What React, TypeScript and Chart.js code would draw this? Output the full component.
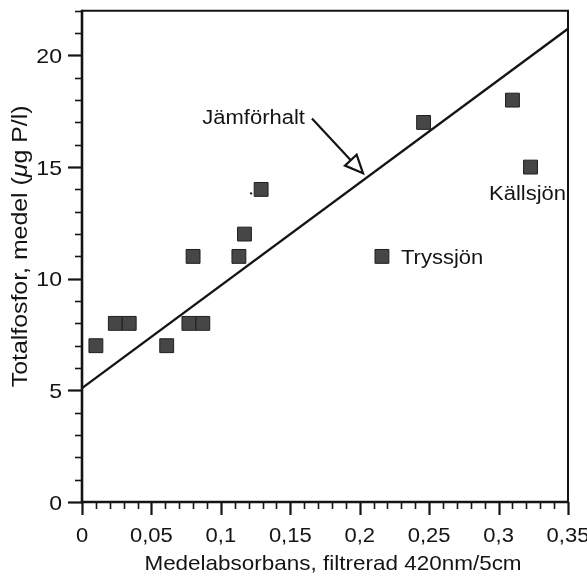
import React, { useEffect, useRef } from "react";
import { Chart, registerables } from "chart.js";

Chart.register(...registerables);

// Lake samples: mean absorbance (filtered, 420 nm / 5 cm) vs mean total phosphorus (µg P/l)
const absorbance = [0.01, 0.024, 0.034, 0.061, 0.077, 0.087, 0.08, 0.113, 0.117, 0.129, 0.246, 0.31, 0.323, 0.216];
const phosphorus = [7, 8, 8, 7, 8, 8, 11, 11, 12, 14, 17, 18, 15, 11];

// Reference ("jämförhalt") line end points
const refLineX = [0, 0.35];
const refLineY = [5.1, 21.2];

// Axis ticks
const xTickValues = [0, 0.05, 0.1, 0.15, 0.2, 0.25, 0.3, 0.35];
const xTickLabels = ["0", "0,05", "0,1", "0,15", "0,2", "0,25", "0,3", "0,35"];
const yTickValues = [0, 5, 10, 15, 20];
const yTickLabels = ["0", "5", "10", "15", "20"];

// Named lakes (index into the sample arrays)
const lakeNames = ["Tryssjön", "Källsjön"];
const lakeIndex = [13, 12];

// Callout for the reference line: label + arrow from tail to head (data units)
const refLineLabel = "Jämförhalt";
const arrowTailX = 0.1656;
const arrowTailY = 17.18;
const arrowHeadX = 0.2024;
const arrowHeadY = 14.72;

const xTitle = "Medelabsorbans, filtrerad 420nm/5cm";
const yTitleParts = [
  { text: "Totalfosfor, medel (", italic: false },
  { text: "μ", italic: true },
  { text: "g P/l)", italic: false },
];

const INK = "#141414";
const FAMILY = '"Liberation Sans", Arial, Helvetica, sans-serif';

function setFont(ctx: CanvasRenderingContext2D, size: number, italic = false) {
  ctx.font = `${italic ? "italic " : ""}${size}px ${FAMILY}`;
}

// Draw a run of text pieces, horizontally widened by sx, anchored by align.
function drawRun(
  ctx: CanvasRenderingContext2D,
  parts: { text: string; italic: boolean }[],
  x: number,
  y: number,
  size: number,
  sx: number,
  align: "left" | "center" | "right"
) {
  let total = 0;
  const widths = parts.map((p) => {
    setFont(ctx, size, p.italic);
    const w = ctx.measureText(p.text).width * sx;
    total += w;
    return w;
  });
  let cursor = align === "left" ? x : align === "center" ? x - total / 2 : x - total;
  parts.forEach((p, i) => {
    ctx.save();
    setFont(ctx, size, p.italic);
    ctx.textAlign = "left";
    ctx.textBaseline = "alphabetic";
    ctx.translate(cursor, y);
    ctx.scale(sx, 1);
    ctx.fillText(p.text, 0, 0);
    ctx.restore();
    cursor += widths[i];
  });
}

function drawText(
  ctx: CanvasRenderingContext2D,
  text: string,
  x: number,
  y: number,
  size: number,
  sx: number,
  align: "left" | "center" | "right"
) {
  drawRun(ctx, [{ text, italic: false }], x, y, size, sx, align);
}

const near = (a: number, list: number[]) => list.some((v) => Math.abs(v - a) < 1e-6);

const decorations = {
  id: "decorations",
  afterDatasetsDraw(chart: any) {
    const ctx: CanvasRenderingContext2D = chart.ctx;
    const { left, right, top, bottom } = chart.chartArea;
    const xs = chart.scales.x;
    const ys = chart.scales.y;
    ctx.save();
    ctx.fillStyle = INK;
    ctx.strokeStyle = INK;
    ctx.lineCap = "butt";

    // frame: top/right lighter, axes heavier
    ctx.lineWidth = 2;
    ctx.beginPath();
    ctx.moveTo(left, top);
    ctx.lineTo(right, top);
    ctx.lineTo(right, bottom);
    ctx.stroke();
    ctx.lineWidth = 2.6;
    ctx.beginPath();
    ctx.moveTo(left, top - 1);
    ctx.lineTo(left, bottom);
    ctx.lineTo(right + 1, bottom);
    ctx.stroke();

    // x tick marks
    xs.ticks.forEach((t: any) => {
      const major = near(t.value, xTickValues);
      const px = Math.round(xs.getPixelForValue(t.value)) + 0.5;
      ctx.lineWidth = major ? 2.2 : 1.6;
      ctx.beginPath();
      ctx.moveTo(px, bottom);
      ctx.lineTo(px, bottom + (major ? 13 : 7));
      ctx.stroke();
    });
    // y tick marks
    ys.ticks.forEach((t: any) => {
      const major = near(t.value, yTickValues);
      const py = Math.round(ys.getPixelForValue(t.value)) + 0.5;
      ctx.lineWidth = major ? 2.2 : 1.6;
      ctx.beginPath();
      ctx.moveTo(left, py);
      ctx.lineTo(left - (major ? 14 : 7), py);
      ctx.stroke();
    });

    // tick labels
    xTickValues.forEach((v, i) => {
      drawText(ctx, xTickLabels[i], xs.getPixelForValue(v), bottom + 40, 20, 1.1, "center");
    });
    yTickValues.forEach((v, i) => {
      drawText(ctx, yTickLabels[i], left - 20, ys.getPixelForValue(v) + 7.5, 21, 1.1, "right");
    });

    // axis titles
    drawText(ctx, xTitle, (left + right) / 2 + 8, 570, 21, 1.07, "center");
    ctx.save();
    ctx.translate(27, (top + bottom) / 2 - 10);
    ctx.rotate(-Math.PI / 2);
    drawRun(ctx, yTitleParts, 0, 0, 22, 1.13, "center");
    ctx.restore();

    // lake names
    const tIdx = lakeIndex[0];
    drawText(
      ctx,
      lakeNames[0],
      xs.getPixelForValue(absorbance[tIdx]) + 19,
      ys.getPixelForValue(phosphorus[tIdx]) + 7.5,
      20,
      1.1,
      "left"
    );
    const kIdx = lakeIndex[1];
    drawText(
      ctx,
      lakeNames[1],
      xs.getPixelForValue(absorbance[kIdx]) - 3,
      ys.getPixelForValue(phosphorus[kIdx]) + 33,
      20,
      1.1,
      "center"
    );

    // stray dot beside the 0.129 sample
    const dIdx = 9;
    ctx.fillRect(xs.getPixelForValue(absorbance[dIdx]) - 11, ys.getPixelForValue(phosphorus[dIdx]) + 3, 2, 2);

    // reference line callout
    const tx = xs.getPixelForValue(arrowTailX);
    const ty = ys.getPixelForValue(arrowTailY);
    const hx = xs.getPixelForValue(arrowHeadX);
    const hy = ys.getPixelForValue(arrowHeadY);
    drawText(ctx, refLineLabel, tx - 7, ty + 6, 20, 1.1, "right");
    const len = Math.hypot(hx - tx, hy - ty);
    const ux = (hx - tx) / len;
    const uy = (hy - ty) / len;
    const headLen = 18;
    const halfW = 8;
    const bx = hx - ux * headLen;
    const by = hy - uy * headLen;
    ctx.lineWidth = 2.2;
    ctx.beginPath();
    ctx.moveTo(tx, ty);
    ctx.lineTo(bx, by);
    ctx.stroke();
    ctx.beginPath();
    ctx.moveTo(hx, hy);
    ctx.lineTo(bx - uy * halfW, by + ux * halfW);
    ctx.lineTo(bx + uy * halfW, by - ux * halfW);
    ctx.closePath();
    ctx.fillStyle = "#ffffff";
    ctx.fill();
    ctx.stroke();

    ctx.restore();
  },
};

export default function App() {
  const canvasRef = useRef<HTMLCanvasElement | null>(null);

  useEffect(() => {
    const canvas = canvasRef.current;
    if (!canvas) return;
    const chart = new Chart(canvas, {
      type: "scatter",
      data: {
        datasets: [
          {
            type: "line",
            data: refLineX.map((x, i) => ({ x, y: refLineY[i] })),
            borderColor: INK,
            borderWidth: 2.4,
            pointRadius: 0,
            fill: false,
            order: 2,
          } as any,
          {
            data: absorbance.map((x, i) => ({ x, y: phosphorus[i] })),
            pointStyle: "rect",
            pointRadius: 9.8,
            backgroundColor: "#464646",
            borderColor: "#1f1f1f",
            borderWidth: 1,
            order: 1,
          },
        ],
      },
      options: {
        animation: false,
        responsive: false,
        devicePixelRatio: 1,
        events: [],
        layout: { padding: { top: 10, right: 19, left: 0, bottom: 0 } },
        plugins: { legend: { display: false }, tooltip: { enabled: false } },
        scales: {
          x: {
            type: "linear",
            min: 0,
            max: 0.35,
            ticks: { display: false, stepSize: 0.01 },
            grid: { display: false },
            border: { display: false },
            afterFit: (s: any) => {
              s.height = 74;
            },
          },
          y: {
            type: "linear",
            min: 0,
            max: 22,
            ticks: { display: false, stepSize: 1 },
            grid: { display: false },
            border: { display: false },
            afterFit: (s: any) => {
              s.width = 82;
            },
          },
        },
      },
      plugins: [decorations],
    });
    return () => chart.destroy();
  }, []);

  return (
    <canvas
      ref={canvasRef}
      width={587}
      height={576}
      style={{ position: "fixed", left: 0, top: 0, display: "block", background: "#ffffff" }}
    />
  );
}
